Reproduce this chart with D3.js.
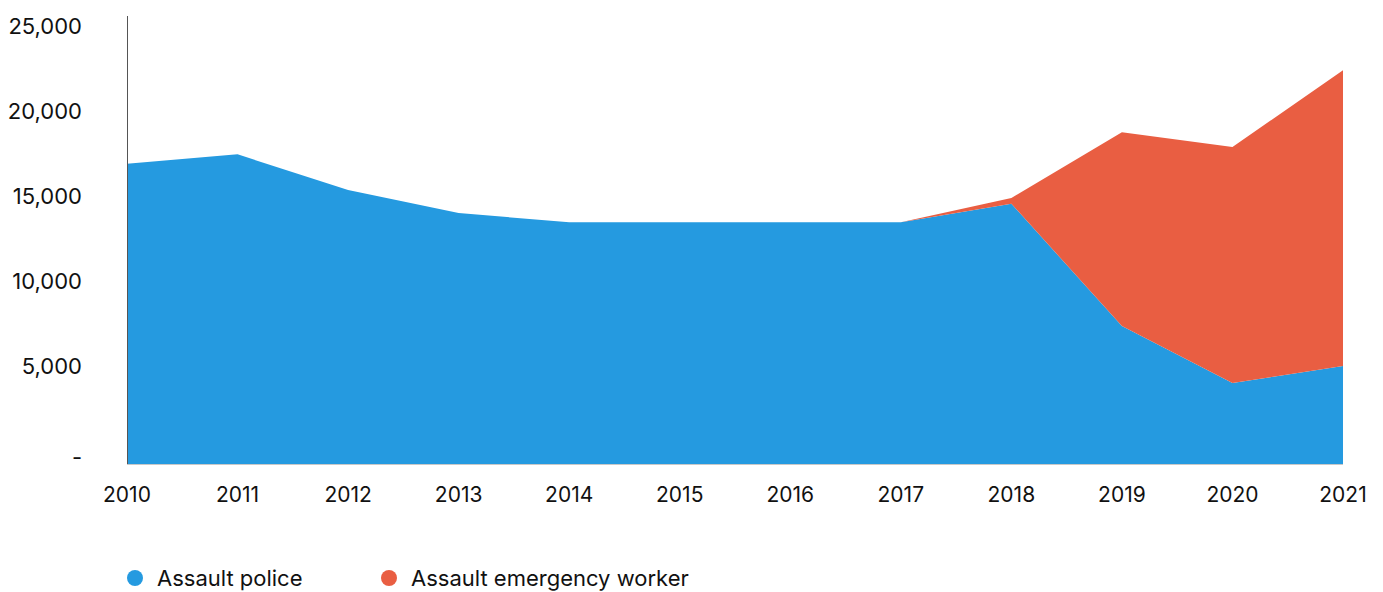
<!DOCTYPE html>
<html>
<head>
<meta charset="utf-8">
<script src="https://cdn.jsdelivr.net/npm/d3@7/dist/d3.min.js"></script>
<style>
  html, body { margin: 0; padding: 0; background: #fff; }
  svg { display: block; font-family: Inter, "Noto Sans", sans-serif; }
</style>
</head>
<body>
<svg id="chart" width="1383" height="592"></svg>
<script>
// Recorded assaults by year, stacked: police at the bottom, emergency workers on top
const years = [2010, 2011, 2012, 2013, 2014, 2015, 2016, 2017, 2018, 2019, 2020, 2021];
const assaultPolice = [16900, 17450, 15350, 14000, 13450, 13450, 13450, 13450, 14550, 7350, 4000, 5000];
const assaultEmergency = [0, 0, 0, 0, 0, 0, 0, 0, 330, 11400, 13880, 17400];
const yTicks = [0, 5000, 10000, 15000, 20000, 25000];
const seriesNames = ["Assault police", "Assault emergency worker"];
const seriesColors = ["#259ae0", "#e95e42"];

const svg = d3.select("#chart");
const left = 127, right = 1343, floorY = 464, axisTop = 16;

const x = d3.scaleLinear().domain([years[0], years[years.length - 1]]).range([left, right]);
const y = d3.scaleLinear().domain([0, 25000]).range([451, 26]);

const rows = years.map((yr, i) => ({ year: yr, police: assaultPolice[i], emergency: assaultEmergency[i] }));
const stacked = d3.stack().keys(["police", "emergency"])(rows);

// Areas: the lowest layer fills down to the axis floor
const area = d3.area()
  .x(d => x(d.data.year))
  .y0(d => d[0] === 0 ? floorY : y(d[0]))
  .y1(d => y(d[1]));

svg.append("g").selectAll("path")
  .data(stacked)
  .join("path")
  .attr("d", area)
  .attr("fill", (d, i) => seriesColors[i]);

// Baseline along the bottom of the plot
svg.append("line")
  .attr("x1", left).attr("x2", right)
  .attr("y1", floorY + 0.5).attr("y2", floorY + 0.5)
  .attr("stroke", "#c8c8c8").attr("stroke-width", 1);

// Vertical axis line
svg.append("line")
  .attr("x1", left + 0.5).attr("x2", left + 0.5)
  .attr("y1", axisTop).attr("y2", floorY)
  .attr("stroke", "#555").attr("stroke-width", 1);

// Y tick labels (zero shown as a dash)
const fmt = d3.format(",");
svg.append("g").selectAll("text")
  .data(yTicks)
  .join("text")
  .attr("x", 82)
  .attr("y", d => d === 0 ? y(d) + 6 : y(d))
  .attr("dy", "0.35em")
  .attr("text-anchor", "end")
  .attr("font-size", 22)
  .attr("fill", "#111")
  .text(d => d === 0 ? "-" : fmt(d));

// X tick labels
svg.append("g").selectAll("text")
  .data(years)
  .join("text")
  .attr("x", d => x(d))
  .attr("y", 495)
  .attr("dy", "0.35em")
  .attr("text-anchor", "middle")
  .attr("font-size", 21)
  .attr("fill", "#111")
  .text(d => d);

// Legend
const legend = svg.append("g").selectAll("g")
  .data(seriesNames)
  .join("g")
  .attr("transform", (d, i) => `translate(${[135, 389][i]},578)`);
legend.append("circle").attr("r", 8).attr("fill", (d, i) => seriesColors[i]);
legend.append("text")
  .attr("x", 22).attr("dy", "0.35em")
  .attr("font-size", 22).attr("fill", "#111")
  .text(d => d);
</script>
</body>
</html>
